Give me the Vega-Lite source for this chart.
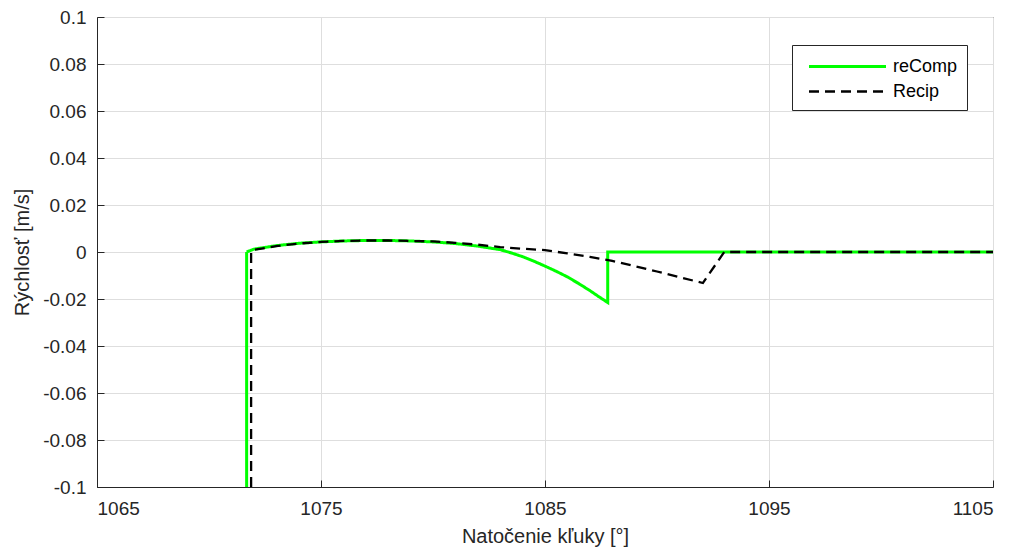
{
  "$schema": "https://vega.github.io/schema/vega-lite/v6.json",
  "width": 896,
  "height": 470,
  "autosize": {"type": "none"},
  "padding": {"left": 97, "top": 17, "right": 25, "bottom": 64},
  "background": "white",
  "config": {
    "font": "Liberation Sans",
    "view": {"stroke": "#262626", "strokeWidth": 1},
    "axis": {
      "domainColor": "#262626",
      "tickColor": "#262626",
      "gridColor": "#dedede",
      "gridWidth": 1,
      "labelColor": "#262626",
      "titleColor": "#262626",
      "labelFont": "Liberation Sans",
      "titleFont": "Liberation Sans",
      "labelFontSize": 19,
      "titleFontSize": 20,
      "titleFontWeight": "normal"
    }
  },
  "data": {
    "values": [
      {"series": "reComp", "o": 1, "x": 1071.68, "y": -0.1},
      {"series": "reComp", "o": 2, "x": 1071.68, "y": 0.0},
      {"series": "reComp", "o": 3, "x": 1072, "y": 0.0012},
      {"series": "reComp", "o": 4, "x": 1073, "y": 0.0027},
      {"series": "reComp", "o": 5, "x": 1074, "y": 0.0037},
      {"series": "reComp", "o": 6, "x": 1075, "y": 0.0043},
      {"series": "reComp", "o": 7, "x": 1076, "y": 0.0047},
      {"series": "reComp", "o": 8, "x": 1077, "y": 0.0049},
      {"series": "reComp", "o": 9, "x": 1078, "y": 0.0049},
      {"series": "reComp", "o": 10, "x": 1079, "y": 0.0047},
      {"series": "reComp", "o": 11, "x": 1080, "y": 0.0043},
      {"series": "reComp", "o": 12, "x": 1081, "y": 0.0036},
      {"series": "reComp", "o": 13, "x": 1082, "y": 0.0025},
      {"series": "reComp", "o": 14, "x": 1083, "y": 0.001},
      {"series": "reComp", "o": 15, "x": 1083.5, "y": -0.0004},
      {"series": "reComp", "o": 16, "x": 1084, "y": -0.002},
      {"series": "reComp", "o": 17, "x": 1084.5, "y": -0.0039},
      {"series": "reComp", "o": 18, "x": 1085, "y": -0.006},
      {"series": "reComp", "o": 19, "x": 1085.5, "y": -0.0082},
      {"series": "reComp", "o": 20, "x": 1086, "y": -0.0106},
      {"series": "reComp", "o": 21, "x": 1086.5, "y": -0.0134},
      {"series": "reComp", "o": 22, "x": 1087, "y": -0.0164},
      {"series": "reComp", "o": 23, "x": 1087.4, "y": -0.019},
      {"series": "reComp", "o": 24, "x": 1087.8, "y": -0.0215},
      {"series": "reComp", "o": 25, "x": 1087.8, "y": 0.0},
      {"series": "reComp", "o": 26, "x": 1105, "y": 0.0},
      {"series": "Recip", "o": 1, "x": 1071.88, "y": -0.1},
      {"series": "Recip", "o": 2, "x": 1071.88, "y": 0.0004},
      {"series": "Recip", "o": 3, "x": 1072, "y": 0.0009},
      {"series": "Recip", "o": 4, "x": 1073, "y": 0.0025},
      {"series": "Recip", "o": 5, "x": 1074, "y": 0.0036},
      {"series": "Recip", "o": 6, "x": 1075, "y": 0.0043},
      {"series": "Recip", "o": 7, "x": 1076, "y": 0.0047},
      {"series": "Recip", "o": 8, "x": 1077, "y": 0.0049},
      {"series": "Recip", "o": 9, "x": 1078, "y": 0.0049},
      {"series": "Recip", "o": 10, "x": 1079, "y": 0.0047},
      {"series": "Recip", "o": 11, "x": 1080, "y": 0.0045},
      {"series": "Recip", "o": 12, "x": 1081, "y": 0.0039},
      {"series": "Recip", "o": 13, "x": 1082, "y": 0.0031},
      {"series": "Recip", "o": 14, "x": 1083, "y": 0.0021},
      {"series": "Recip", "o": 15, "x": 1084, "y": 0.0014},
      {"series": "Recip", "o": 16, "x": 1085, "y": 0.0008},
      {"series": "Recip", "o": 17, "x": 1086, "y": -0.0006},
      {"series": "Recip", "o": 18, "x": 1087, "y": -0.0021},
      {"series": "Recip", "o": 19, "x": 1088, "y": -0.0038},
      {"series": "Recip", "o": 20, "x": 1089, "y": -0.006},
      {"series": "Recip", "o": 21, "x": 1090, "y": -0.0083},
      {"series": "Recip", "o": 22, "x": 1091, "y": -0.0107},
      {"series": "Recip", "o": 23, "x": 1092.05, "y": -0.0132},
      {"series": "Recip", "o": 24, "x": 1093, "y": 0.0},
      {"series": "Recip", "o": 25, "x": 1105, "y": 0.0}
    ]
  },
  "mark": {"type": "line", "clip": true, "strokeCap": "butt"},
  "encoding": {
    "x": {
      "field": "x",
      "type": "quantitative",
      "scale": {"domain": [1065, 1105], "nice": false, "zero": false},
      "axis": {
        "values": [1065, 1075, 1085, 1095, 1105],
        "format": "d",
        "title": "Natočenie kľuky [°]",
        "tickSize": -7,
        "labelPadding": 19,
        "titlePadding": 8,
        "grid": true
      }
    },
    "y": {
      "field": "y",
      "type": "quantitative",
      "scale": {"domain": [-0.1, 0.1], "nice": false, "zero": false},
      "axis": {
        "values": [-0.1, -0.08, -0.06, -0.04, -0.02, 0, 0.02, 0.04, 0.06, 0.08, 0.1],
        "labelExpr": "replace(format(datum.value, '.2~f'), '−', '-')",
        "title": "Rýchlosť [m/s]",
        "tickSize": -7,
        "labelPadding": 18,
        "titlePadding": 10,
        "grid": true
      }
    },
    "order": {"field": "o", "type": "quantitative"},
    "color": {
      "field": "series",
      "type": "nominal",
      "scale": {"domain": ["reComp", "Recip"], "range": ["#00ff00", "#000000"]},
      "legend": {
        "title": null,
        "orient": "none",
        "legendX": 695,
        "legendY": 28,
        "direction": "vertical",
        "fillColor": "white",
        "strokeColor": "#262626",
        "padding": 9,
        "symbolType": "M-3.5,0H3.5",
        "symbolSize": 484,
        "symbolStrokeWidth": 2.5,
        "symbolOffset": 34,
        "labelFontSize": 18,
        "labelFont": "Liberation Sans",
        "labelColor": "#000000",
        "rowPadding": 3,
        "labelOffset": 33
      }
    },
    "strokeDash": {
      "field": "series",
      "type": "nominal",
      "scale": {"domain": ["reComp", "Recip"], "range": [[1, 0], [10, 6]]}
    },
    "strokeWidth": {
      "field": "series",
      "type": "nominal",
      "scale": {"domain": ["reComp", "Recip"], "range": [3, 2.3]},
      "legend": null
    }
  }
}
